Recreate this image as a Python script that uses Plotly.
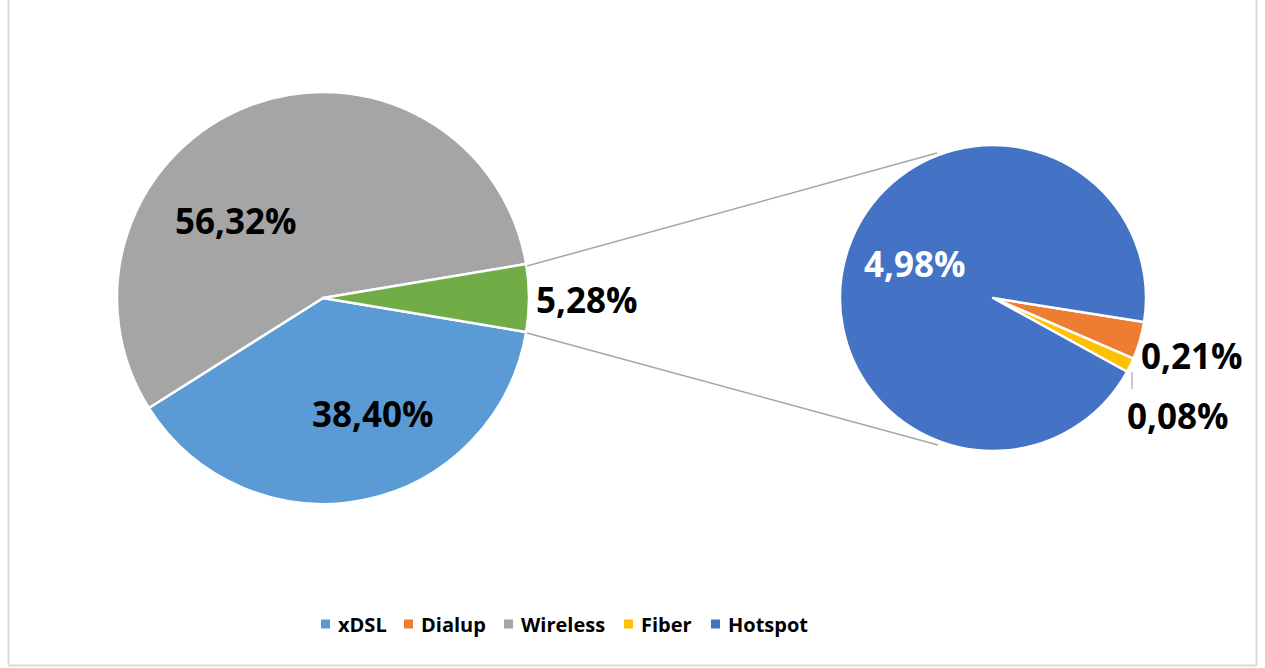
import plotly.graph_objects as go

W, H = 1265, 668

# Main pie: broadband access shares (the "Other" wedge is broken out on the right)
main_labels = ["xDSL", "Wireless", "Other"]
main_values = [38.40, 56.32, 5.28]
main_colors = ["#5B9BD5", "#A5A5A5", "#70AD47"]
main_text_colors = ["black", "black", "black"]

# Secondary pie: breakdown of the "Other" wedge
sub_labels = ["Dialup", "Fiber", "Hotspot"]
sub_values = [0.21, 0.08, 4.98]
sub_colors = ["#ED7D31", "#FFC000", "#4472C4"]
sub_text_colors = ["black", "black", "white"]

# Legend entries
legend_labels = ["xDSL", "Dialup", "Wireless", "Fiber", "Hotspot"]
legend_colors = ["#5B9BD5", "#ED7D31", "#A5A5A5", "#FFC000", "#4472C4"]

# Geometry (pixels)
MAIN_C, MAIN_R = (323, 298), 206
SUB_C, SUB_R = (993, 298), 153
main_label_pos = [(373, 413), (236, 220), (587, 299)]
sub_label_pos = [(1192, 355), (1178, 415), (915, 263)]
legend_x = [321, 404, 504, 624, 711]
legend_y = 624

FONT = "Open Sans"


def px(x):
    return x / W


def py(y):
    return 1 - y / H


def domain(c, r):
    return dict(x=[px(c[0] - r), px(c[0] + r)], y=[py(c[1] + r), py(c[1] - r)])


def pct(v):
    return f"{v:.2f}".replace(".", ",") + "%"


fig = go.Figure()

fig.add_trace(go.Pie(
    labels=main_labels, values=main_values, sort=False,
    direction="clockwise", rotation=99.5,
    marker=dict(colors=main_colors, line=dict(color="white", width=2.5)),
    textinfo="none", hoverinfo="label+percent", showlegend=False,
    domain=domain(MAIN_C, MAIN_R),
))

fig.add_trace(go.Pie(
    labels=sub_labels, values=sub_values, sort=False,
    direction="clockwise", rotation=99,
    marker=dict(colors=sub_colors, line=dict(color="white", width=2.5)),
    textinfo="none", hoverinfo="label+value", showlegend=False,
    domain=domain(SUB_C, SUB_R),
))

annotations = []
for v, (x, y), col in zip(main_values, main_label_pos, main_text_colors):
    annotations.append(dict(x=px(x), y=py(y), xref="paper", yref="paper",
                            text=f"<b>{pct(v)}</b>", showarrow=False,
                            font=dict(family=FONT, size=35, color=col),
                            xanchor="center", yanchor="middle"))
for v, (x, y), col in zip(sub_values, sub_label_pos, sub_text_colors):
    annotations.append(dict(x=px(x), y=py(y), xref="paper", yref="paper",
                            text=f"<b>{pct(v)}</b>", showarrow=False,
                            font=dict(family=FONT, size=35, color=col),
                            xanchor="center", yanchor="middle"))

shapes = []
# Connector lines between the two pies
for (x0, y0), (x1, y1) in [((527, 266), (937, 153)), ((527, 333), (938, 445))]:
    shapes.append(dict(type="line", xref="paper", yref="paper",
                       x0=px(x0), y0=py(y0), x1=px(x1), y1=py(y1),
                       line=dict(color="#A6A6A6", width=1.5)))
# Leader line for the smallest slice label
shapes.append(dict(type="line", xref="paper", yref="paper",
                   x0=px(1132), y0=py(372), x1=px(1132), y1=py(389),
                   line=dict(color="#A6A6A6", width=1.2)))

# Legend swatches and labels
for lx, lab, col in zip(legend_x, legend_labels, legend_colors):
    shapes.append(dict(type="rect", xref="paper", yref="paper",
                       x0=px(lx), x1=px(lx + 9), y0=py(legend_y + 4.5), y1=py(legend_y - 4.5),
                       fillcolor=col, line=dict(width=0)))
    annotations.append(dict(x=px(lx + 15), y=py(legend_y), xref="paper", yref="paper",
                            text=f"<b>{lab}</b>", showarrow=False,
                            font=dict(family=FONT, size=20, color="black"),
                            xanchor="left", yanchor="middle"))

# Chart area border
for (x0, y0), (x1, y1) in [((8.5, -5), (8.5, 665.5)), ((1256.5, -5), (1256.5, 665.5)),
                           ((8.5, 665.5), (1256.5, 665.5))]:
    shapes.append(dict(type="line", xref="paper", yref="paper",
                       x0=px(x0), y0=py(y0), x1=px(x1), y1=py(y1),
                       line=dict(color="#D9D9D9", width=2)))

fig.update_layout(
    width=W, height=H,
    margin=dict(l=0, r=0, t=0, b=0),
    paper_bgcolor="white", plot_bgcolor="white",
    showlegend=False,
    shapes=shapes, annotations=annotations,
)

fig.write_html("out.html")
